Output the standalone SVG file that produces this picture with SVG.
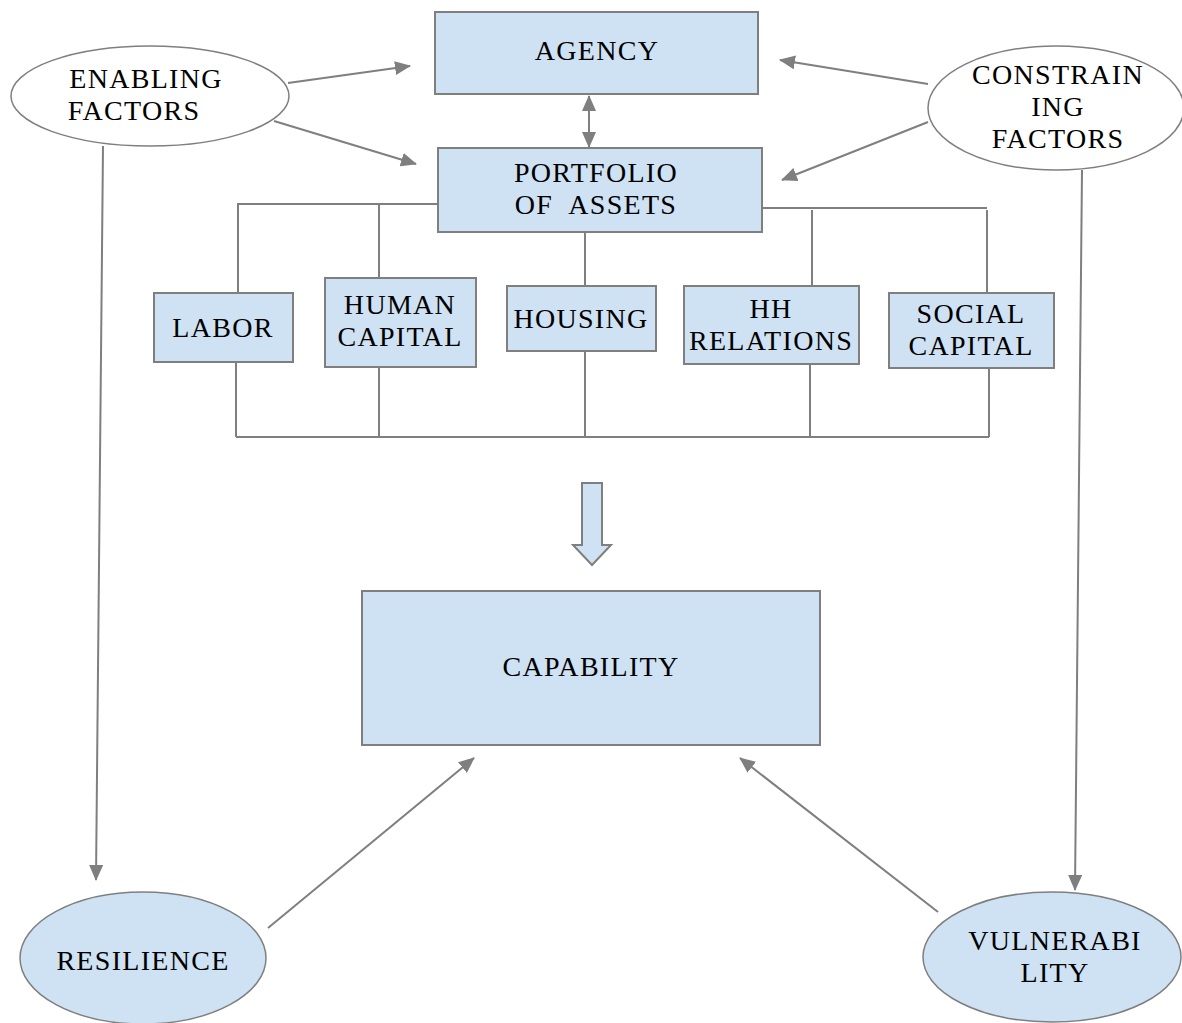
<svg xmlns="http://www.w3.org/2000/svg" width="1182" height="1023" viewBox="0 0 1182 1023">
<style>
.box{fill:#cfe2f3;stroke:#7f7f7f;stroke-width:2}
.oval{fill:#ffffff;stroke:#7f7f7f;stroke-width:1.5}
.ovalb{fill:#cfe2f3;stroke:#7f7f7f;stroke-width:1.5}
.ln{fill:none;stroke:#7f7f7f;stroke-width:2}
.ar{fill:none;stroke:#7f7f7f;stroke-width:2;marker-end:url(#ah)}
text{font-family:"Liberation Serif","Times New Roman",serif;font-size:28px;letter-spacing:1.3px;fill:#000;text-anchor:middle}
</style>
<defs>
<marker id="ah" markerWidth="16" markerHeight="14" refX="15" refY="7" orient="auto" markerUnits="userSpaceOnUse">
<path d="M0,0 L16,7 L0,14 Z" fill="#7f7f7f"/>
</marker>
<marker id="ahs" markerWidth="16" markerHeight="14" refX="1" refY="7" orient="auto" markerUnits="userSpaceOnUse">
<path d="M16,0 L0,7 L16,14 Z" fill="#7f7f7f"/>
</marker>
</defs>
<rect width="1182" height="1023" fill="#ffffff"/>
<g id="connectors">
<line class="ar" x1="288" y1="83" x2="410" y2="66"/>
<line class="ar" x1="274" y1="121" x2="416" y2="164"/>
<line class="ar" x1="928" y1="84" x2="780" y2="60"/>
<line class="ar" x1="928" y1="122" x2="782" y2="180"/>
<line class="ar" x1="589" y1="96" x2="589" y2="147" style="marker-start:url(#ahs)"/>
<line class="ar" x1="103" y1="146" x2="96" y2="880"/>
<line class="ar" x1="1082" y1="170" x2="1075" y2="890"/>
<polyline class="ln" points="438,204 238,204 238,293"/>
<line class="ln" x1="379" y1="204" x2="379" y2="278"/>
<line class="ln" x1="585" y1="232" x2="585" y2="286"/>
<polyline class="ln" points="762,208 987,208"/>
<line class="ln" x1="812" y1="210" x2="812" y2="286"/>
<line class="ln" x1="987" y1="210" x2="987" y2="293"/>
<line class="ln" x1="236" y1="362" x2="236" y2="437"/>
<line class="ln" x1="379" y1="367" x2="379" y2="437"/>
<line class="ln" x1="585" y1="351" x2="585" y2="437"/>
<line class="ln" x1="810" y1="364" x2="810" y2="437"/>
<line class="ln" x1="989" y1="368" x2="989" y2="437"/>
<line class="ln" x1="236" y1="437" x2="989" y2="437"/>
<line class="ar" x1="268" y1="928" x2="474" y2="758"/>
<line class="ar" x1="938" y1="912" x2="740" y2="758"/>
<path id="blockarrow" class="box" d="M582,483 H602 V545 H611 L592,565 L573,545 H582 Z"/>
</g>
<g id="agency"><rect class="box" x="435" y="12" width="323" height="82"/><text x="597" y="60">AGENCY</text></g>
<g id="portfolio"><rect class="box" x="438" y="148" width="324" height="84"/><text x="596" y="182">PORTFOLIO</text><text x="596" y="214">OF&#160; ASSETS</text></g>
<g id="enabling"><ellipse class="oval" cx="150" cy="96" rx="139" ry="50"/><text x="146" y="88">ENABLING</text><text x="134" y="120">FACTORS</text></g>
<g id="constraining"><ellipse class="oval" cx="1056" cy="108" rx="128" ry="62"/><text x="1058" y="84">CONSTRAIN</text><text x="1058" y="116">ING</text><text x="1058" y="148">FACTORS</text></g>
<g id="labor"><rect class="box" x="154" y="293" width="139" height="69"/><text x="223" y="337">LABOR</text></g>
<g id="human"><rect class="box" x="325" y="278" width="151" height="89"/><text x="400" y="314">HUMAN</text><text x="400" y="346">CAPITAL</text></g>
<g id="housing"><rect class="box" x="507" y="286" width="149" height="65"/><text x="581" y="328">HOUSING</text></g>
<g id="hh"><rect class="box" x="684" y="286" width="175" height="78"/><text x="771" y="318">HH</text><text x="771" y="350">RELATIONS</text></g>
<g id="social"><rect class="box" x="889" y="293" width="165" height="75"/><text x="971" y="323">SOCIAL</text><text x="971" y="355">CAPITAL</text></g>
<g id="capability"><rect class="box" x="362" y="591" width="458" height="154"/><text x="591" y="676">CAPABILITY</text></g>
<g id="resilience"><ellipse class="ovalb" cx="143" cy="958" rx="123" ry="66"/><text x="143" y="970">RESILIENCE</text></g>
<g id="vulnerability"><ellipse class="ovalb" cx="1052" cy="957" rx="129" ry="65"/><text x="1055" y="950">VULNERABI</text><text x="1055" y="982">LITY</text></g>
</svg>
